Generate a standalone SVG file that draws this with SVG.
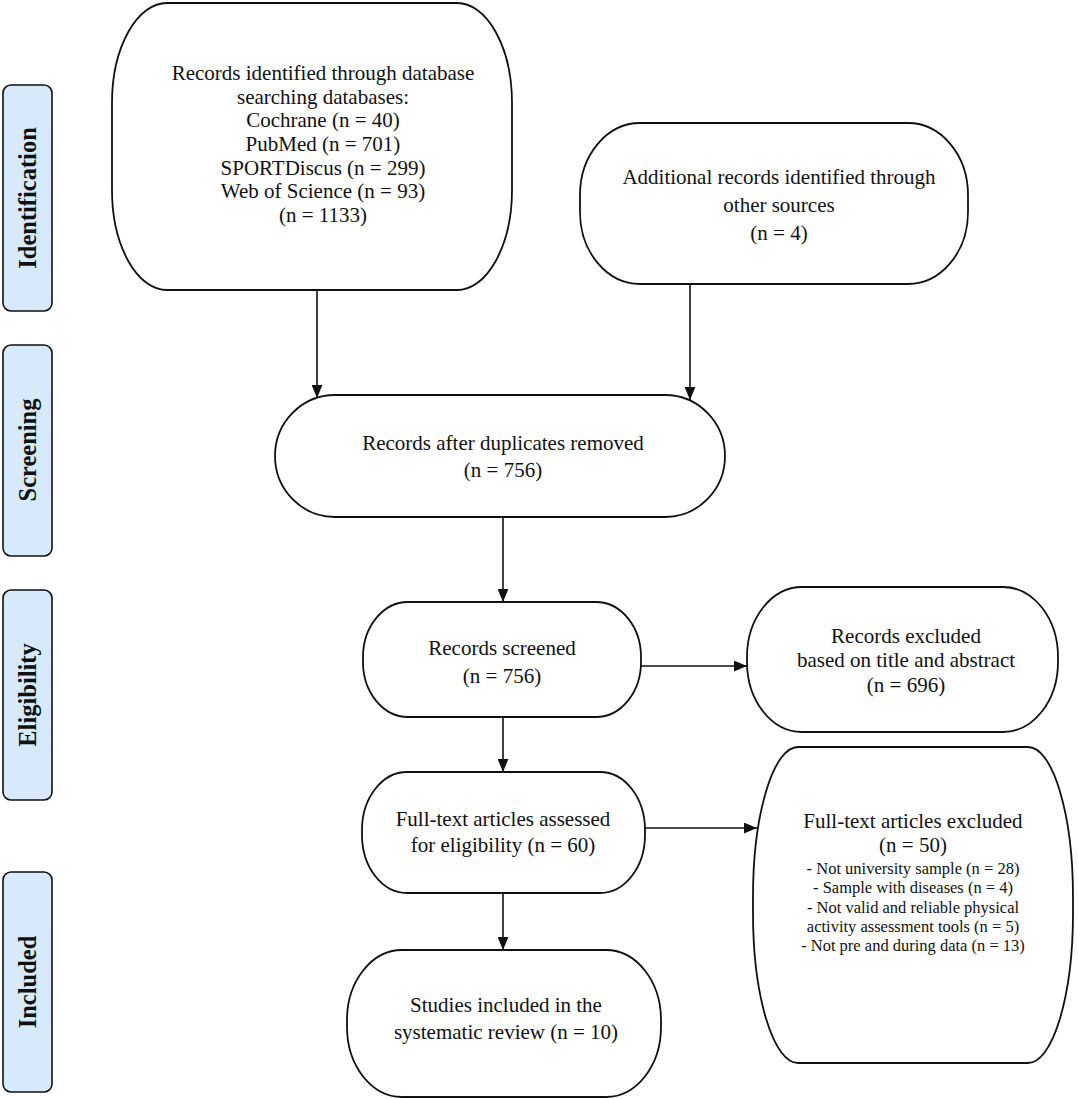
<svg xmlns="http://www.w3.org/2000/svg" width="1078" height="1099" viewBox="0 0 1078 1099">
<style>
.bg{fill:#ffffff}
.bar{fill:#d6eafb;stroke:#111;stroke-width:1.6}
.node{fill:#ffffff;stroke:#111;stroke-width:1.8}
.lbl{font-family:"Liberation Serif","Times New Roman",serif;font-weight:bold;font-size:24.5px;fill:#111;text-anchor:middle}
.t{font-family:"Liberation Serif","Times New Roman",serif;font-size:21px;fill:#111;text-anchor:middle}
.s{font-family:"Liberation Serif","Times New Roman",serif;font-size:16.5px;fill:#111;text-anchor:middle}
.conn{fill:none;stroke:#111;stroke-width:1.6}
</style>
<defs>
<marker id="ah" viewBox="0 0 12 10" refX="12" refY="5" markerWidth="13" markerHeight="11" markerUnits="userSpaceOnUse" orient="auto">
<path d="M0,0 L12,5 L0,10 z" fill="#111"/>
</marker>
</defs>
<rect class="bg" x="0" y="0" width="1078" height="1099"/>

<g id="stage-identification">
<rect class="bar" x="3" y="85" width="49" height="226" rx="8" ry="8"/>
<text class="lbl" transform="translate(28,198) rotate(-90)" y="8">Identification</text>
</g>
<g id="stage-screening">
<rect class="bar" x="3" y="345" width="49" height="211" rx="8" ry="8"/>
<text class="lbl" transform="translate(28,450) rotate(-90)" y="8">Screening</text>
</g>
<g id="stage-eligibility">
<rect class="bar" x="3" y="590" width="49" height="210" rx="8" ry="8"/>
<text class="lbl" transform="translate(28,695) rotate(-90)" y="8">Eligibility</text>
</g>
<g id="stage-included">
<rect class="bar" x="3" y="872" width="49" height="220" rx="8" ry="8"/>
<text class="lbl" transform="translate(28,982) rotate(-90)" y="8">Included</text>
</g>

<g id="node-database">
<rect class="node" x="112" y="3" width="400" height="287" rx="55" ry="100"/>
<text class="t" x="323" y="80">Records identified through database</text>
<text class="t" x="323" y="104">searching databases:</text>
<text class="t" x="323" y="127">Cochrane (n = 40)</text>
<text class="t" x="323" y="151">PubMed (n = 701)</text>
<text class="t" x="323" y="175">SPORTDiscus (n = 299)</text>
<text class="t" x="323" y="198">Web of Science (n = 93)</text>
<text class="t" x="323" y="222">(n = 1133)</text>
</g>

<g id="node-additional">
<rect class="node" x="580" y="123" width="388" height="161" rx="60" ry="72"/>
<text class="t" x="779" y="184">Additional records identified through</text>
<text class="t" x="779" y="212">other sources</text>
<text class="t" x="779" y="240">(n = 4)</text>
</g>

<g id="node-duplicates">
<rect class="node" x="275" y="395" width="450" height="122" rx="60" ry="61"/>
<text class="t" x="503" y="450">Records after duplicates removed</text>
<text class="t" x="503" y="477">(n = 756)</text>
</g>

<g id="node-screened">
<rect class="node" x="363" y="602" width="278" height="115" rx="45" ry="55"/>
<text class="t" x="502" y="655">Records screened</text>
<text class="t" x="502" y="683">(n = 756)</text>
</g>

<g id="node-excluded-title">
<rect class="node" x="747" y="587" width="311" height="145" rx="55" ry="70"/>
<text class="t" x="906" y="643">Records excluded</text>
<text class="t" x="906" y="667">based on title and abstract</text>
<text class="t" x="906" y="692">(n = 696)</text>
</g>

<g id="node-fulltext">
<rect class="node" x="362" y="772" width="283" height="121" rx="45" ry="58"/>
<text class="t" x="503" y="826">Full-text articles assessed</text>
<text class="t" x="503" y="852">for eligibility (n = 60)</text>
</g>

<g id="node-included">
<rect class="node" x="347" y="950" width="314" height="147" rx="55" ry="70"/>
<text class="t" x="506" y="1012">Studies included in the</text>
<text class="t" x="506" y="1039">systematic review (n = 10)</text>
</g>

<g id="node-fulltext-excluded">
<rect class="node" x="753" y="747" width="320" height="316" rx="45" ry="150"/>
<text class="t" x="913" y="828">Full-text articles excluded</text>
<text class="t" x="913" y="852">(n = 50)</text>
<text class="s" x="913" y="874">- Not university sample (n = 28)</text>
<text class="s" x="913" y="893">- Sample with diseases (n = 4)</text>
<text class="s" x="913" y="913">- Not valid and reliable physical</text>
<text class="s" x="913" y="932">activity assessment tools (n = 5)</text>
<text class="s" x="913" y="951">- Not pre and during data (n = 13)</text>
</g>

<g id="connectors">
<path class="conn" d="M317,290 V398" marker-end="url(#ah)"/>
<path class="conn" d="M690,284 V400" marker-end="url(#ah)"/>
<path class="conn" d="M503,517 V602" marker-end="url(#ah)"/>
<path class="conn" d="M641,666 H747" marker-end="url(#ah)"/>
<path class="conn" d="M503,717 V772" marker-end="url(#ah)"/>
<path class="conn" d="M645,828 H757" marker-end="url(#ah)"/>
<path class="conn" d="M503,893 V950" marker-end="url(#ah)"/>
</g>
</svg>
